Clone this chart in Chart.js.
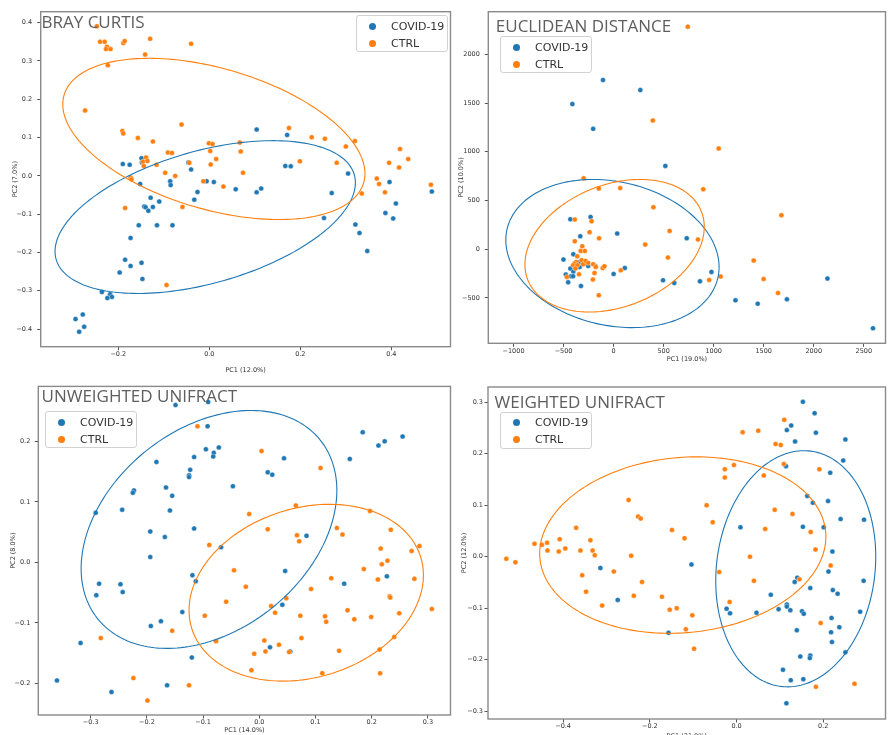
<!DOCTYPE html>
<html>
<head>
<meta charset="utf-8">
<script src="https://cdn.jsdelivr.net/npm/chart.js@4.4.1/dist/chart.umd.min.js"></script>
<style>
  html, body { margin: 0; padding: 0; background: #fff; }
  body { width: 890px; height: 735px; position: relative; overflow: hidden; font-family: "DejaVu Sans", sans-serif; }
  .panel { position: absolute; }
  .panel canvas { display: block; }
  .title { position: absolute; font-family: "Open Sans", sans-serif; font-size: 17px; line-height: 17px; color: #5e5e5e; white-space: nowrap; }
  .legend { position: absolute; width: 92px; height: 37px; border: 1px solid #d2d2d2; border-radius: 3px; background: rgba(255,255,255,0.8); box-sizing: border-box; }
  .legend .dot { position: absolute; width: 7px; height: 7px; border-radius: 50%; }
  .legend .lbl { position: absolute; font-size: 11px; line-height: 11px; color: #333; white-space: nowrap; }
</style>
</head>
<body>
<script>
const groups = ['COVID-19', 'CTRL'];
const colors = ['#1f77b4', '#ff7f0e'];

// Bray Curtis
const brayXTicks = [-0.2, 0, 0.2, 0.4];
const brayYTicks = [-0.4, -0.3, -0.2, -0.1, 0, 0.1, 0.2, 0.3, 0.4];
const brayCovid = [[-0.190,0.031],[-0.175,0.029],[-0.149,0.046],[-0.148,0.035],[-0.152,-0.021],[-0.086,-0.014],[-0.085,-0.024],[-0.046,0.035],[-0.040,0.017],[-0.006,-0.014],[0.010,-0.016],[-0.026,-0.042],[-0.033,-0.062],[-0.129,-0.057],[-0.110,-0.067],[-0.143,-0.080],[-0.140,-0.082],[-0.124,-0.081],[-0.134,-0.091],[-0.155,-0.129],[-0.115,-0.129],[-0.081,-0.129],[-0.173,-0.162],[-0.185,-0.219],[-0.173,-0.235],[-0.149,-0.227],[-0.197,-0.252],[-0.147,-0.269],[-0.236,-0.303],[-0.218,-0.309],[-0.214,-0.316],[-0.224,-0.319],[-0.294,-0.374],[-0.278,-0.362],[-0.275,-0.394],[-0.286,-0.407],[0.104,0.121],[0.171,0.107],[0.167,0.026],[0.179,0.025],[0.058,-0.035],[0.104,-0.043],[0.114,-0.033],[0.269,-0.045],[0.305,0.006],[0.252,-0.110],[0.321,-0.127],[0.330,-0.149],[0.347,-0.196],[0.396,-0.016],[0.410,-0.072],[0.387,-0.097],[0.404,-0.111],[0.489,-0.041]];
const brayCtrl = [[-0.247,0.391],[-0.240,0.350],[-0.230,0.350],[-0.225,0.337],[-0.227,0.331],[-0.217,0.331],[-0.223,0.289],[-0.189,0.347],[-0.186,0.352],[-0.130,0.358],[-0.141,0.317],[-0.040,0.345],[-0.273,0.171],[-0.191,0.117],[-0.189,0.111],[-0.157,0.099],[-0.124,0.090],[-0.061,0.134],[-0.001,0.085],[0.007,0.083],[0.002,0.065],[0.015,0.044],[0.003,0.030],[-0.091,0.061],[-0.082,0.060],[-0.139,0.048],[-0.136,0.039],[-0.146,0.037],[-0.144,0.026],[-0.116,0.029],[-0.173,-0.004],[-0.171,-0.009],[-0.097,0.008],[-0.075,0.000],[-0.013,-0.014],[0.031,-0.028],[-0.044,0.034],[-0.059,-0.081],[-0.185,-0.084],[-0.094,-0.285],[0.175,0.125],[0.067,0.087],[0.069,0.064],[0.074,0.008],[0.225,0.101],[0.254,0.097],[0.300,0.077],[0.320,0.091],[0.199,0.038],[0.280,0.034],[0.335,-0.046],[0.368,-0.007],[0.373,-0.021],[0.386,-0.043],[0.395,0.034],[0.417,0.022],[0.419,0.070],[0.437,0.044],[0.487,-0.023]];
// ellipse: [centre x, centre y, half x-extent, half y-extent, phase]
const brayEllipseCovid = [-0.009, -0.1075, 0.330, 0.1995, 1.105];
const brayEllipseCtrl = [0.010, 0.0965, 0.332, 0.2105, 2.015];

// Euclidean distance
const euclidXTicks = [-1000, -500, 0, 500, 1000, 1500, 2000, 2500];
const euclidYTicks = [-500, 0, 500, 1000, 1500, 2000];
const euclidCovid = [[-106,1736],[-412,1489],[267,1633],[-204,1235],[517,855],[-230,332],[-432,308],[-333,134],[36,161],[-501,-106],[-402,-51],[-432,-198],[-378,-182],[-349,-134],[-339,-182],[-293,-147],[-254,-171],[-181,-171],[-402,-229],[-477,-260],[-425,-277],[-405,-277],[-454,-339],[-365,-160],[-326,-377],[0,-253],[112,-192],[494,-318],[731,113],[606,-346],[863,-329],[978,-233],[1218,-524],[1440,-558],[1732,-514],[2137,-301],[2592,-811]];
const euclidCtrl = [[392,1321],[-299,729],[-148,623],[66,627],[398,431],[-388,305],[-220,288],[-240,175],[-145,113],[-388,82],[-313,31],[-329,-17],[-287,-17],[-363,-72],[316,48],[543,-85],[-375,-130],[-392,-147],[-405,-164],[-363,-164],[-382,-198],[-319,-113],[-306,-154],[-280,-120],[-254,-140],[-204,-154],[-178,-182],[-109,-192],[-92,-175],[-346,-257],[-191,-243],[-207,-311],[72,-216],[-467,-284],[-148,-472],[741,2283],[1050,1034],[896,616],[1677,349],[560,188],[843,100],[1400,-116],[955,-315],[1070,-280],[1499,-305],[1643,-449]];
const euclidEllipseCovid = [-11.5, -44, 1065.5, 760, 1.754];
const euclidEllipseCtrl = [10, 36, 896, 680, 1.283];

// Unweighted UniFrac
const unweightedXTicks = [-0.3, -0.2, -0.1, 0, 0.1, 0.2, 0.3];
const unweightedYTicks = [-0.2, -0.1, 0, 0.1, 0.2];
const unweightedCovid = [[-0.149,0.260],[-0.091,0.265],[-0.092,0.225],[-0.095,0.187],[-0.081,0.181],[-0.082,0.175],[-0.072,0.190],[-0.116,0.174],[-0.183,0.166],[-0.123,0.153],[-0.125,0.144],[-0.125,0.141],[-0.166,0.124],[-0.223,0.119],[-0.225,0.115],[-0.155,0.110],[-0.291,0.082],[-0.244,0.087],[-0.159,0.086],[-0.116,0.056],[-0.194,0.051],[-0.168,0.042],[-0.068,0.025],[-0.194,0.009],[-0.119,-0.021],[-0.113,-0.031],[-0.285,-0.035],[-0.290,-0.054],[-0.247,-0.036],[-0.243,-0.049],[-0.137,-0.082],[-0.175,-0.097],[-0.193,-0.105],[-0.318,-0.133],[-0.120,-0.157],[-0.360,-0.195],[-0.263,-0.214],[-0.164,-0.203],[0.044,0.172],[0.015,0.149],[0.023,0.145],[-0.047,0.126],[0.184,0.215],[0.212,0.193],[0.223,0.200],[0.255,0.208],[0.161,0.171],[0.084,0.044],[0.046,-0.014],[0.151,-0.035],[0.227,-0.023],[0.041,-0.070],[0.019,-0.140],[0.055,-0.147]];
const unweightedCtrl = [[-0.110,0.225],[-0.089,0.029],[-0.059,-0.065],[-0.097,-0.088],[-0.155,-0.113],[-0.077,-0.130],[-0.282,-0.125],[-0.224,-0.191],[-0.125,-0.203],[-0.199,-0.228],[0.004,0.184],[0.109,0.156],[0.065,0.094],[-0.018,0.080],[0.197,0.085],[0.015,0.055],[0.067,0.045],[0.071,0.035],[0.138,0.057],[0.148,0.046],[0.234,0.054],[0.216,0.023],[0.271,0.019],[0.285,0.027],[0.218,-0.003],[0.228,0.003],[0.211,-0.028],[0.186,-0.011],[0.128,-0.026],[0.276,-0.027],[-0.045,-0.013],[-0.024,-0.040],[0.092,-0.044],[0.048,-0.059],[0.021,-0.072],[0.028,-0.083],[0.232,-0.056],[0.233,-0.058],[0.157,-0.079],[0.169,-0.094],[0.073,-0.088],[0.117,-0.089],[0.119,-0.098],[0.199,-0.090],[0.249,-0.084],[0.307,-0.077],[0.075,-0.125],[0.009,-0.129],[0.035,-0.136],[0.011,-0.147],[-0.009,-0.151],[0.053,-0.148],[0.142,-0.146],[0.240,-0.123],[0.214,-0.144],[-0.014,-0.178],[0.112,-0.183],[0.215,-0.183]];
const unweightedEllipseCovid = [-0.0895, 0.0545, 0.2275, 0.1965, 1.236];
const unweightedEllipseCtrl = [0.0835, -0.05, 0.2085, 0.146, 1.371];

// Weighted UniFrac
const weightedXTicks = [-0.4, -0.2, 0, 0.2];
const weightedYTicks = [-0.3, -0.2, -0.1, 0, 0.1, 0.2, 0.3];
const weightedCovid = [[-0.314,-0.022],[-0.274,-0.084],[0.153,0.301],[0.180,0.279],[0.116,0.246],[0.126,0.255],[0.183,0.241],[0.135,0.224],[0.251,0.228],[0.246,0.187],[0.114,0.176],[0.216,0.163],[0.163,0.118],[0.176,0.105],[0.211,0.108],[0.240,0.073],[0.294,0.072],[0.009,0.057],[0.153,0.058],[0.201,0.057],[0.221,0.010],[-0.104,-0.015],[0.212,-0.029],[0.140,-0.041],[0.134,-0.049],[0.170,-0.061],[0.293,-0.047],[0.222,-0.065],[0.233,-0.072],[0.079,-0.074],[-0.023,-0.101],[-0.015,-0.110],[0.046,-0.109],[0.097,-0.102],[0.116,-0.093],[0.116,-0.097],[0.124,-0.104],[0.151,-0.106],[0.155,-0.111],[0.285,-0.107],[0.139,-0.143],[0.219,-0.119],[0.237,-0.137],[0.218,-0.147],[0.220,-0.166],[-0.157,-0.148],[0.251,-0.186],[0.147,-0.194],[0.170,-0.192],[0.169,-0.197],[0.107,-0.220],[0.125,-0.240],[0.154,-0.238],[0.115,-0.285]];
const weightedCtrl = [[-0.531,-0.004],[-0.510,-0.011],[-0.466,0.025],[-0.449,0.023],[-0.437,0.027],[-0.436,0.012],[-0.408,0.034],[-0.410,0.010],[-0.395,0.016],[-0.370,0.056],[-0.360,0.012],[-0.356,-0.036],[-0.347,-0.068],[-0.337,0.032],[-0.332,0.012],[-0.327,0.003],[-0.310,-0.095],[-0.283,-0.029],[-0.249,0.110],[-0.243,0.002],[-0.227,0.078],[-0.221,0.074],[-0.237,-0.076],[-0.218,-0.049],[-0.172,-0.078],[0.110,0.266],[0.014,0.242],[0.050,0.245],[0.090,0.219],[0.102,0.217],[0.109,0.180],[-0.027,0.170],[-0.027,0.154],[-0.006,0.178],[0.063,0.158],[0.191,0.170],[-0.069,0.100],[-0.055,0.067],[0.088,0.091],[0.129,0.083],[-0.149,0.052],[-0.120,0.036],[0.066,0.054],[0.171,0.048],[0.182,0.014],[0.031,0.000],[-0.040,-0.030],[0.040,-0.047],[0.145,-0.044],[0.217,-0.017],[-0.154,-0.103],[-0.138,-0.100],[-0.102,-0.114],[-0.016,-0.088],[-0.117,-0.141],[-0.098,-0.179],[0.194,-0.129],[0.183,-0.253],[0.272,-0.247]];
const weightedEllipseCovid = [0.1365, -0.0235, 0.1845, 0.2295, 1.468];
const weightedEllipseCtrl = [-0.124, 0.0225, 0.330, 0.1715, 1.475];

Chart.defaults.font.family = '"DejaVu Sans", sans-serif';

const fmt1 = v => v.toFixed(1).replace('-', '\u2212');
const fmt0 = v => String(Math.round(v)).replace('-', '\u2212');

// page layout: canvas box, plot area (page coords), axis limits
const panels = [
    { title: 'BRAY CURTIS', left: 0, top: 0, w: 455, h: 378, area: [40.7, 11.7, 450.5, 346.7],
      xr: [-0.3705, 0.530], yr: [-0.446, 0.4287], xt: brayXTicks, yt: brayYTicks, fmt: fmt1,
      xTitle: 'PC1 (12.0%)', yTitle: 'PC2 (7.0%)', xTitlePad: 3.4, yTitlePad: 11.1, yPad: 5,
      data: [brayCovid, brayCtrl], ell: [brayEllipseCovid, brayEllipseCtrl],
      titlePos: [41.5, 13.2], legendPos: [356, 15] },
    { title: 'EUCLIDEAN DISTANCE', left: 455, top: 0, w: 435, h: 378, area: [488.3, 11.7, 890, 343.3],
      xr: [-1252, 2717], yr: [-965, 2437], xt: euclidXTicks, yt: euclidYTicks, fmt: fmt0,
      xTitle: 'PC1 (19.0%)', yTitle: 'PC2 (10.0%)', xTitlePad: 15.1, yTitlePad: 2.1, yPad: 5,
      data: [euclidCovid, euclidCtrl], ell: [euclidEllipseCovid, euclidEllipseCtrl],
      titlePos: [495.8, 16.6], legendPos: [500, 36] },
    { title: 'UNWEIGHTED UNIFRACT', left: 0, top: 378, w: 455, h: 360, area: [38.3, 383.3, 450.5, 715],
      xr: [-0.3932, 0.3402], yr: [-0.2520, 0.2908], xt: unweightedXTicks, yt: unweightedYTicks, fmt: fmt1,
      xTitle: 'PC1 (14.0%)', yTitle: 'PC2 (8.0%)', xTitlePad: 3.4, yTitlePad: 9.4, yPad: 4.5,
      data: [unweightedCovid, unweightedCtrl], ell: [unweightedEllipseCovid, unweightedEllipseCtrl],
      titlePos: [41.5, 386.6], legendPos: [45, 411] },
    { title: 'WEIGHTED UNIFRACT', left: 455, top: 378, w: 435, h: 363, area: [488, 387, 888.3, 719],
      xr: [-0.5732, 0.3435], yr: [-0.3155, 0.3298], xt: weightedXTicks, yt: weightedYTicks, fmt: fmt1,
      xTitle: 'PC1 (31.0%)', yTitle: 'PC2 (12.0%)', xTitlePad: 1.1, yTitlePad: 5.4, yPad: 1.5,
      data: [weightedCovid, weightedCtrl], ell: [weightedEllipseCovid, weightedEllipseCtrl],
      titlePos: [494.5, 392.6], legendPos: [500, 411.7] }
];

function ellipsesAndFrame(ells) {
    return {
        id: 'ellipsesAndFrame',
        afterDatasetsDraw(chart) {
            const { ctx, chartArea: a, scales: { x, y } } = chart;
            ctx.save();
            ctx.beginPath();
            ctx.rect(a.left, a.top, a.right - a.left, a.bottom - a.top);
            ctx.clip();
            ells.forEach((e, k) => {
                const [cx, cy, rx, ry, ph] = e;
                ctx.beginPath();
                for (let i = 0; i <= 200; i++) {
                    const t = i / 200 * Math.PI * 2;
                    const px = x.getPixelForValue(cx + rx * Math.cos(t));
                    const py = y.getPixelForValue(cy + ry * Math.cos(t - ph));
                    if (i === 0) ctx.moveTo(px, py); else ctx.lineTo(px, py);
                }
                ctx.closePath();
                ctx.strokeStyle = colors[k];
                ctx.lineWidth = 1.1;
                ctx.stroke();
            });
            ctx.restore();
            ctx.save();
            ctx.strokeStyle = '#8a8a8a';
            ctx.lineWidth = 1.4;
            ctx.strokeRect(a.left, a.top, a.right - a.left, a.bottom - a.top);
            ctx.restore();
        }
    };
}

panels.forEach(p => {
    const box = document.createElement('div');
    box.className = 'panel';
    box.style.left = p.left + 'px';
    box.style.top = p.top + 'px';
    const cv = document.createElement('canvas');
    cv.width = p.w;
    cv.height = p.h;
    box.appendChild(cv);
    document.body.appendChild(box);

    const aL = p.area[0] - p.left, aT = p.area[1] - p.top, aR = p.area[2] - p.left, aB = p.area[3] - p.top;
    const tickFont = { size: 6.5 };

    new Chart(cv.getContext('2d'), {
        type: 'scatter',
        data: {
            datasets: groups.map((g, k) => ({
                label: g,
                data: p.data[k].map(d => ({ x: d[0], y: d[1] })),
                backgroundColor: colors[k],
                borderColor: 'rgba(255,255,255,0.7)',
                borderWidth: 0.5,
                pointRadius: 2.5,
                order: 2 - k
            }))
        },
        options: {
            responsive: false,
            animation: false,
            layout: { padding: { left: 0, top: aT, right: p.w - aR, bottom: 0 } },
            plugins: { legend: { display: false }, tooltip: { enabled: false }, title: { display: false } },
            scales: {
                x: {
                    type: 'linear', min: p.xr[0], max: p.xr[1],
                    afterBuildTicks: s => { s.ticks = p.xt.map(v => ({ value: v })); },
                    afterFit: s => { s.height = p.h - aB; },
                    ticks: { callback: v => p.fmt(v), font: tickFont, color: '#333', padding: 0.3, maxRotation: 0, autoSkip: false },
                    grid: { drawOnChartArea: false, drawTicks: true, tickLength: 3.5, color: '#555' },
                    border: { display: false },
                    title: { display: true, text: p.xTitle, font: tickFont, color: '#333', padding: { top: 0, bottom: p.xTitlePad } }
                },
                y: {
                    type: 'linear', min: p.yr[0], max: p.yr[1],
                    afterBuildTicks: s => { s.ticks = p.yt.map(v => ({ value: v })); },
                    afterFit: s => { s.width = aL; },
                    ticks: { callback: v => p.fmt(v), font: tickFont, color: '#333', padding: p.yPad, autoSkip: false },
                    grid: { drawOnChartArea: false, drawTicks: true, tickLength: 3.5, color: '#555' },
                    border: { display: false },
                    title: { display: true, text: p.yTitle, font: tickFont, color: '#333', padding: { top: p.yTitlePad, bottom: p.yTitlePad } }
                }
            }
        },
        plugins: [ellipsesAndFrame(p.ell)]
    });

    const t = document.createElement('div');
    t.className = 'title';
    t.textContent = p.title;
    t.style.left = p.titlePos[0] + 'px';
    t.style.top = p.titlePos[1] + 'px';
    document.body.appendChild(t);

    const lg = document.createElement('div');
    lg.className = 'legend';
    lg.style.left = p.legendPos[0] + 'px';
    lg.style.top = p.legendPos[1] + 'px';
    groups.forEach((g, k) => {
        const d = document.createElement('div');
        d.className = 'dot';
        d.style.background = colors[k];
        d.style.left = '12px';
        d.style.top = (6.5 + k * 17) + 'px';
        lg.appendChild(d);
        const l = document.createElement('div');
        l.className = 'lbl';
        l.textContent = g;
        l.style.left = '34px';
        l.style.top = (4.5 + k * 17) + 'px';
        lg.appendChild(l);
    });
    document.body.appendChild(lg);
});
</script>
</body>
</html>
